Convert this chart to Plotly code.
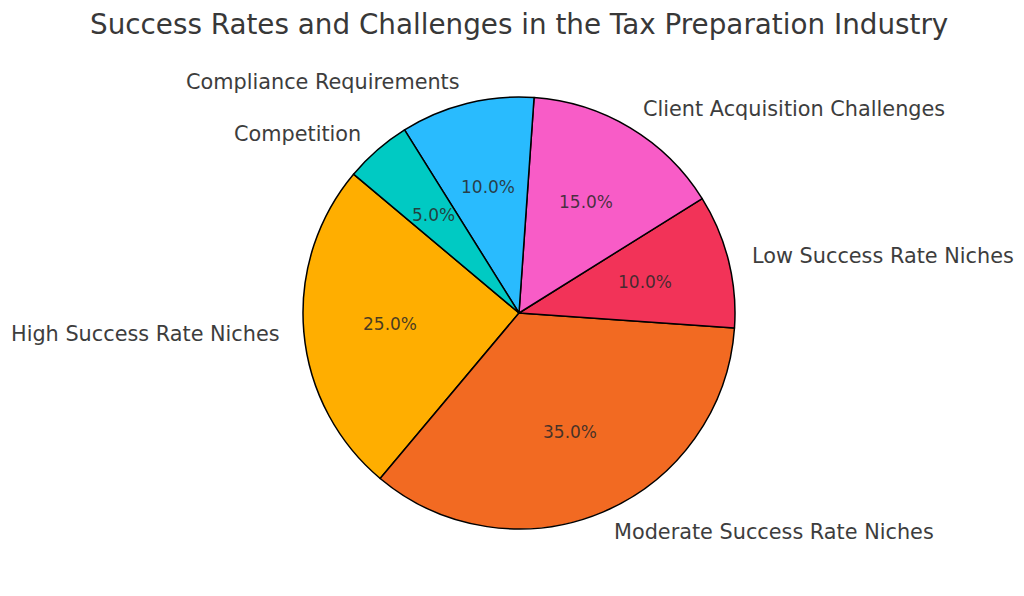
import math
import plotly.graph_objects as go

labels = ["High Success Rate Niches", "Moderate Success Rate Niches", "Low Success Rate Niches",
          "Client Acquisition Challenges", "Compliance Requirements", "Competition"]
values = [25, 35, 10, 15, 10, 5]
colors = ["#FFAE00", "#F26A22", "#F23358", "#F85CC7", "#29BBFE", "#00CAC3"]
title = "Success Rates and Challenges in the Tax Preparation Industry"

W, H = 1024, 596
cx, cy, R = 519, 313, 216  # pixel geometry of the pie
start_deg = 140

total = sum(values)
first_span = 360 * values[0] / total
# plotly (counterclockwise): rotation marks the end of the first slice, measured clockwise from 12 o'clock
rotation = 90 - (start_deg + first_span)

fig = go.Figure(go.Pie(
    labels=labels, values=values, sort=False, direction="counterclockwise",
    rotation=rotation,
    marker=dict(colors=colors, line=dict(color="black", width=1.5)),
    textinfo="none", hoverinfo="label+percent", showlegend=False,
    domain=dict(x=[(cx - R) / W, (cx + R) / W], y=[(H - cy - R) / H, (H - cy + R) / H]),
))

ang = start_deg
annotations = []
for lab, v in zip(labels, values):
    mid = math.radians(ang + 360 * v / total / 2)
    ang += 360 * v / total
    lx = cx + 1.1 * R * math.cos(mid)
    ly = cy - 1.1 * R * math.sin(mid)
    annotations.append(dict(x=lx / W, y=1 - ly / H, xref="paper", yref="paper", text=lab,
                            showarrow=False, xanchor="left" if math.cos(mid) > 0 else "right",
                            yanchor="middle", font=dict(family="DejaVu Sans", size=20.8, color="#3d3d3d")))
    px = cx + 0.6 * R * math.cos(mid)
    py = cy - 0.6 * R * math.sin(mid)
    annotations.append(dict(x=px / W, y=1 - py / H, xref="paper", yref="paper",
                            text=f"{100 * v / total:.1f}%", showarrow=False,
                            xanchor="center", yanchor="middle",
                            font=dict(family="DejaVu Sans", size=17, color="rgba(40,40,40,0.85)")))

annotations.append(dict(x=cx / W, y=1 - 25 / H, xref="paper", yref="paper", text=title,
                        showarrow=False, xanchor="center", yanchor="middle",
                        font=dict(family="DejaVu Sans", size=27.8, color="#383838")))

fig.update_layout(width=W, height=H, margin=dict(l=0, r=0, t=0, b=0),
                  paper_bgcolor="white", plot_bgcolor="white", annotations=annotations)
fig.write_html("out.html")
